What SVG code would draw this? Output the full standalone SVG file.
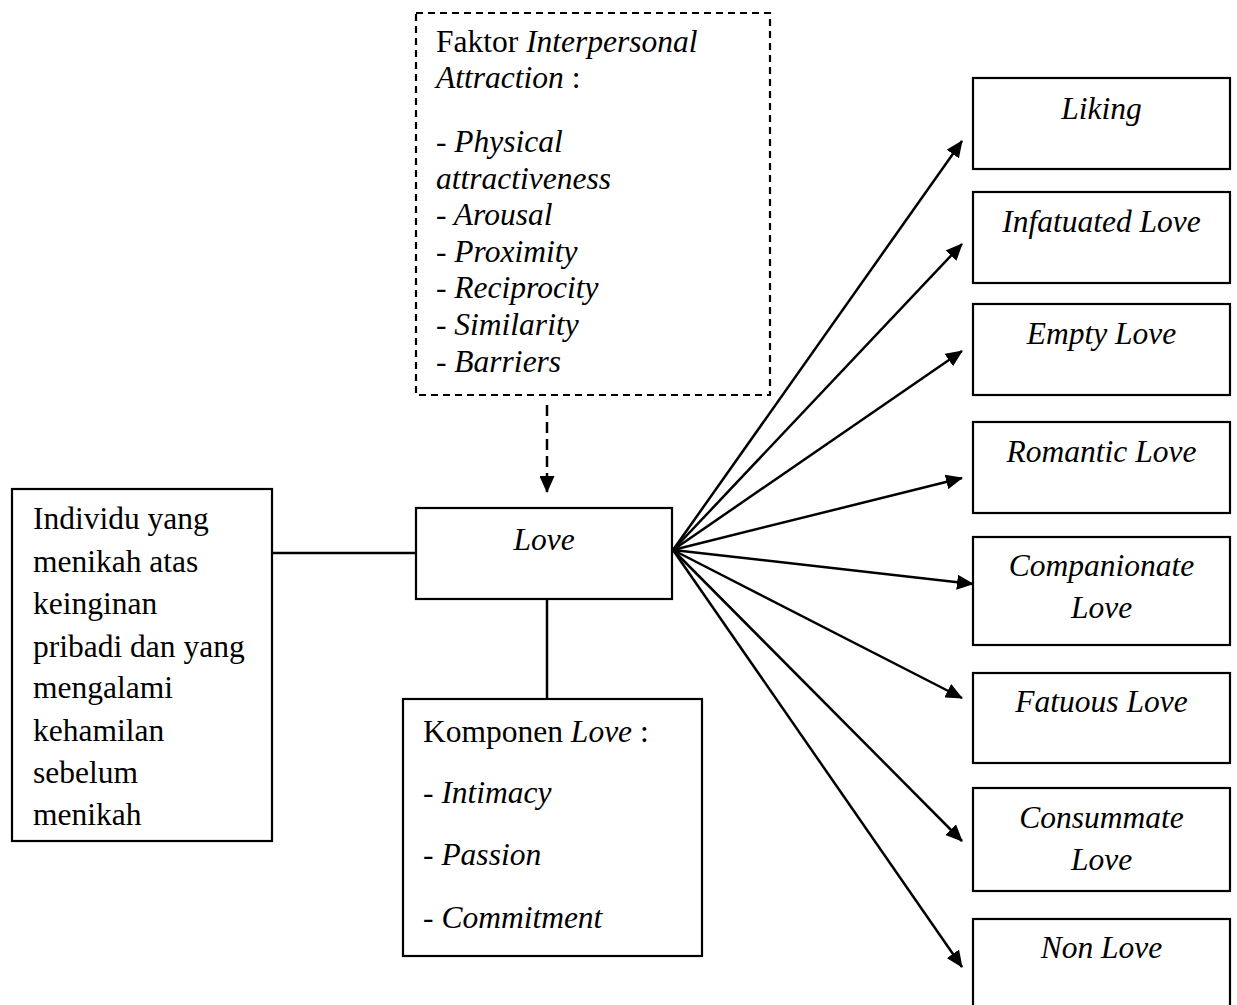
<svg xmlns="http://www.w3.org/2000/svg" width="1237" height="1005" viewBox="0 0 1237 1005">
<style>
.box{fill:#fff;stroke:#000;stroke-width:2.2}
.dbox{fill:#fff;stroke:#000;stroke-width:2.2;stroke-dasharray:7 5}
.t{font-family:"Liberation Serif","Times New Roman",serif;font-size:31.5px;fill:#000}
.i{font-style:italic}
.c{text-anchor:middle}
.ln{stroke:#000;stroke-width:2.5;fill:none}
</style>
<defs>
<marker id="ah" viewBox="0 0 17 15" refX="16" refY="7.5" markerWidth="17" markerHeight="15" markerUnits="userSpaceOnUse" orient="auto">
<path d="M0,0 L17,7.5 L0,15 z" fill="#000"/>
</marker>
</defs>
<g id="connectors">
<line class="ln" x1="547" y1="405" x2="547" y2="492" stroke-dasharray="11 6" marker-end="url(#ah)"/>
<line class="ln" x1="272" y1="553" x2="416" y2="553"/>
<line class="ln" x1="547" y1="599" x2="547" y2="699"/>
<line class="ln" x1="673" y1="550" x2="962" y2="141" marker-end="url(#ah)"/>
<line class="ln" x1="673" y1="550" x2="962" y2="244" marker-end="url(#ah)"/>
<line class="ln" x1="673" y1="550" x2="962" y2="351" marker-end="url(#ah)"/>
<line class="ln" x1="673" y1="550" x2="962" y2="478" marker-end="url(#ah)"/>
<line class="ln" x1="673" y1="550" x2="973" y2="584" marker-end="url(#ah)"/>
<line class="ln" x1="673" y1="550" x2="962" y2="698" marker-end="url(#ah)"/>
<line class="ln" x1="673" y1="550" x2="962" y2="841" marker-end="url(#ah)"/>
<line class="ln" x1="673" y1="550" x2="962" y2="967" marker-end="url(#ah)"/>
</g>
<g id="faktor">
<rect class="dbox" x="416" y="13" width="354" height="382"/>
<text class="t" x="436" y="52">Faktor <tspan class="i">Interpersonal</tspan></text>
<text class="t" x="436" y="88"><tspan class="i">Attraction</tspan> :</text>
<text class="t i" x="436" y="152">- Physical</text>
<text class="t i" x="436" y="189">attractiveness</text>
<text class="t i" x="436" y="225">- Arousal</text>
<text class="t i" x="436" y="262">- Proximity</text>
<text class="t i" x="436" y="298">- Reciprocity</text>
<text class="t i" x="436" y="335">- Similarity</text>
<text class="t i" x="436" y="372">- Barriers</text>
</g>
<g id="individu">
<rect class="box" x="12" y="489" width="260" height="352"/>
<text class="t" x="33" y="529">Individu yang</text>
<text class="t" x="33" y="572">menikah atas</text>
<text class="t" x="33" y="614">keinginan</text>
<text class="t" x="33" y="657">pribadi dan yang</text>
<text class="t" x="33" y="698">mengalami</text>
<text class="t" x="33" y="741">kehamilan</text>
<text class="t" x="33" y="783">sebelum</text>
<text class="t" x="33" y="825">menikah</text>
</g>
<g id="love">
<rect class="box" x="416" y="508" width="256" height="91"/>
<text class="t i c" x="544" y="550">Love</text>
</g>
<g id="komponen">
<rect class="box" x="403" y="699" width="299" height="257"/>
<text class="t" x="423" y="742">Komponen <tspan class="i">Love</tspan> :</text>
<text class="t" x="423" y="803">- <tspan class="i">Intimacy</tspan></text>
<text class="t" x="423" y="865">- <tspan class="i">Passion</tspan></text>
<text class="t" x="423" y="928">- <tspan class="i">Commitment</tspan></text>
</g>
<g id="liking">
<rect class="box" x="973" y="78" width="257" height="91"/>
<text class="t i c" x="1101.5" y="119">Liking</text>
</g>
<g id="infatuated">
<rect class="box" x="973" y="192" width="257" height="91"/>
<text class="t i c" x="1101.5" y="232">Infatuated Love</text>
</g>
<g id="empty">
<rect class="box" x="973" y="304" width="257" height="91"/>
<text class="t i c" x="1101.5" y="344">Empty Love</text>
</g>
<g id="romantic">
<rect class="box" x="973" y="422" width="257" height="91"/>
<text class="t i c" x="1101.5" y="462">Romantic Love</text>
</g>
<g id="companionate">
<rect class="box" x="973" y="537" width="257" height="108"/>
<text class="t i c" x="1101.5" y="576">Companionate</text>
<text class="t i c" x="1101.5" y="618">Love</text>
</g>
<g id="fatuous">
<rect class="box" x="973" y="673" width="257" height="90"/>
<text class="t i c" x="1101.5" y="712">Fatuous Love</text>
</g>
<g id="consummate">
<rect class="box" x="973" y="788" width="257" height="103"/>
<text class="t i c" x="1101.5" y="828">Consummate</text>
<text class="t i c" x="1101.5" y="870">Love</text>
</g>
<g id="nonlove">
<rect class="box" x="973" y="919" width="257" height="91"/>
<text class="t i c" x="1101.5" y="958">Non Love</text>
</g>
</svg>
